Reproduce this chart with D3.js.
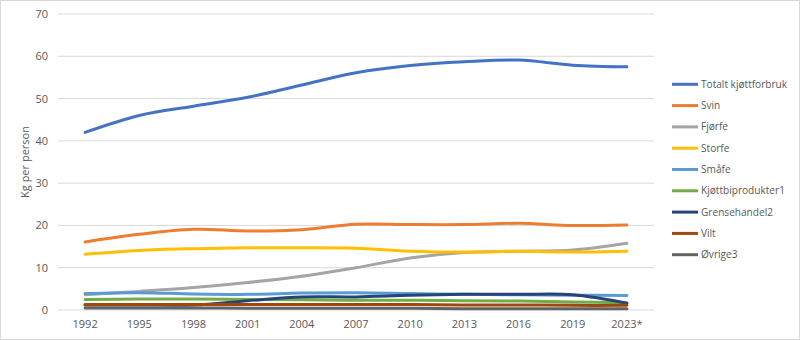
<!DOCTYPE html>
<html><head><meta charset="utf-8">
<script src="https://cdn.jsdelivr.net/npm/d3@7"></script>
<style>body{margin:0;background:#fff}svg{display:block}</style>
</head><body>
<svg id="c" width="800" height="340"></svg>
<script>
const years = ["1992","1995","1998","2001","2004","2007","2010","2013","2016","2019","2023*"];
const yTicks = [0,10,20,30,40,50,60,70];
const seriesNames = ["Totalt kjøttforbruk","Svin","Fjørfe","Storfe","Småfe","Kjøttbiprodukter1","Grensehandel2","Vilt","Øvrige3"];
const totalt = [42.0,46.0,48.2,50.3,53.2,56.1,57.8,58.7,59.1,57.9,57.5];
const svin = [16.1,17.9,19.1,18.7,19.0,20.3,20.2,20.2,20.5,20.0,20.1];
const fjorfe = [3.6,4.4,5.3,6.5,8.0,10.0,12.3,13.6,13.9,14.2,15.8];
const storfe = [13.2,14.1,14.5,14.7,14.7,14.6,13.9,13.7,13.9,13.7,13.9];
const smafe = [3.9,4.1,3.8,3.7,4.0,4.1,3.9,3.7,3.6,3.5,3.4];
const biprod = [2.5,2.6,2.6,2.5,2.4,2.3,2.3,2.2,2.1,1.9,1.7];
const grense = [1.2,1.2,1.2,2.2,3.1,3.1,3.5,3.7,3.7,3.6,1.6];
const vilt = [1.3,1.3,1.3,1.3,1.3,1.3,1.3,1.2,1.2,1.1,1.1];
const ovrige = [0.5,0.5,0.5,0.4,0.4,0.4,0.4,0.3,0.3,0.3,0.3];
const seriesValues = [totalt,svin,fjorfe,storfe,smafe,biprod,grense,vilt,ovrige];
const colors = ["#4472C4","#ED7D31","#A5A5A5","#FFC000","#5B9BD5","#70AD47","#264478","#9E480E","#636363"];

const svg = d3.select("#c");
const font = "'Open Sans', sans-serif";
svg.append("rect").attr("x",0.5).attr("y",0.5).attr("width",799).attr("height",339)
  .attr("fill","#fff").attr("stroke","#d9d9d9");

const x = d3.scaleBand().domain(years).range([58,654]);
const y = d3.scaleLinear().domain([0,70]).range([310,14]);

const grid = svg.append("g");
grid.selectAll("line").data(yTicks).join("line")
  .attr("x1",58).attr("x2",654).attr("y1",d=>y(d)).attr("y2",d=>y(d))
  .attr("stroke","#d9d9d9").attr("stroke-width",1);

const yAxis = svg.append("g").attr("transform","translate(58,0)")
  .call(d3.axisLeft(y).tickValues(yTicks).tickSize(0).tickPadding(10));
yAxis.select(".domain").remove();
yAxis.selectAll("text").attr("fill","#595959").style("font-family",font).style("font-size","11px");

const xAxis = svg.append("g").attr("transform","translate(0,310)")
  .call(d3.axisBottom(x).tickSize(0).tickPadding(10));
xAxis.select(".domain").remove();
xAxis.selectAll("text").attr("fill","#595959").style("font-family",font).style("font-size","11px");

svg.append("text").attr("transform","translate(29,162) rotate(-90)")
  .attr("text-anchor","middle").attr("fill","#595959")
  .style("font-family",font).style("font-size","11px").text("Kg per person");

const line = d3.line().x((d,i)=>x(years[i])+x.bandwidth()/2).y(d=>y(d))
  .curve(d3.curveCatmullRom.alpha(0.5));
svg.append("g").selectAll("path").data(seriesValues).join("path")
  .attr("d",d=>line(d)).attr("fill","none")
  .attr("stroke",(d,i)=>colors[i]).attr("stroke-width",3).attr("stroke-linejoin","round").attr("stroke-linecap","round");

const leg = svg.append("g");
const items = leg.selectAll("g").data(seriesNames).join("g")
  .attr("transform",(d,i)=>`translate(672,${84.3+i*21.3})`);
items.append("line").attr("x1",0).attr("x2",26).attr("stroke",(d,i)=>colors[i]).attr("stroke-width",3);
items.append("text").attr("x",29).attr("dy","0.35em").attr("fill","#595959")
  .style("font-family",font).style("font-size","10.1px").text(d=>d);
</script>
</body></html>
